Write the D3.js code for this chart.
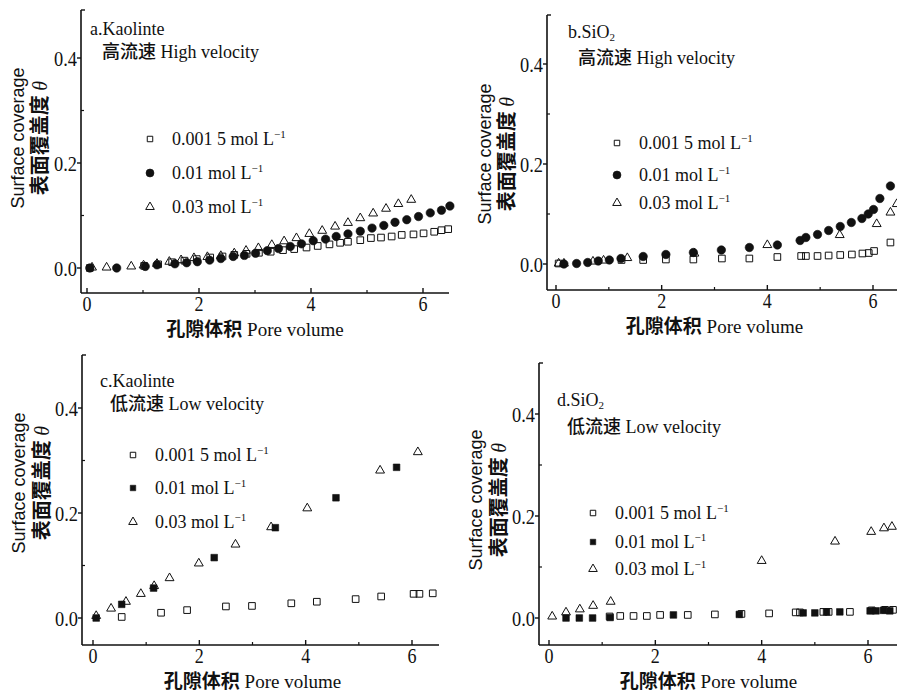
<!DOCTYPE html>
<html>
<head>
<meta charset="utf-8">
<script src="https://cdn.jsdelivr.net/npm/d3@7"></script>
<style>
body { margin: 0; background: #fff; }
svg text { fill: #111; }
</style>
</head>
<body>
<div id="chart"></div>
<script>
//tick values and legend labels
var xTicks = [0, 2, 4, 6];
var xMinor = [1, 3, 5];
var yTicks = [0.0, 0.2, 0.4];
var yMinor = [0.1, 0.3];
var seriesNames = ["0.001 5 mol L", "0.01 mol L", "0.03 mol L"];

//a. Kaolinte, high velocity  [pore volume, coverage]
var aLow = [[0.05,0],[1.02,0.004],[1.27,0.007],[1.52,0.011],[1.74,0.014],[1.96,0.017],[2.2,0.02],[2.42,0.022],[2.63,0.025],[2.85,0.027],[3.07,0.029],[3.28,0.031],[3.5,0.034],[3.7,0.036],[3.92,0.039],[4.12,0.042],[4.33,0.045],[4.52,0.048],[4.66,0.05],[4.88,0.053],[5.07,0.057],[5.25,0.058],[5.44,0.06],[5.62,0.063],[5.83,0.064],[6.01,0.066],[6.2,0.069],[6.33,0.072],[6.45,0.074]];
var aMid = [[0.05,0],[0.53,0],[1.04,0.003],[1.25,0.006],[1.57,0.008],[1.78,0.01],[1.97,0.012],[2.19,0.015],[2.39,0.018],[2.61,0.022],[2.81,0.024],[3.01,0.028],[3.22,0.033],[3.42,0.037],[3.63,0.041],[3.83,0.046],[4.04,0.052],[4.26,0.055],[4.45,0.06],[4.66,0.065],[4.88,0.07],[5.09,0.076],[5.3,0.081],[5.5,0.087],[5.71,0.092],[5.92,0.098],[6.13,0.105],[6.33,0.11],[6.48,0.118]];
var aHigh = [[0.09,0.001],[0.35,0.001],[0.79,0.003],[1.01,0.005],[1.25,0.008],[1.47,0.012],[1.68,0.015],[1.91,0.019],[2.15,0.021],[2.39,0.023],[2.63,0.028],[2.84,0.033],[3.06,0.038],[3.3,0.044],[3.52,0.051],[3.74,0.057],[3.97,0.065],[4.2,0.071],[4.43,0.079],[4.66,0.086],[4.88,0.095],[5.11,0.104],[5.34,0.113],[5.56,0.122],[5.79,0.13]];

//b. SiO2, high velocity
var bLow = [[0.05,0.001],[1.24,0.008],[1.65,0.008],[2.08,0.009],[2.6,0.009],[3.14,0.011],[3.66,0.011],[4.19,0.014],[4.64,0.016],[4.73,0.016],[4.95,0.016],[5.16,0.017],[5.38,0.018],[5.6,0.019],[5.8,0.021],[5.92,0.022],[6.02,0.026],[6.33,0.043]];
var bMid = [[0.15,0],[0.39,0.001],[0.6,0.003],[0.8,0.006],[1.01,0.008],[1.23,0.011],[1.65,0.015],[2.08,0.019],[2.6,0.023],[3.13,0.028],[3.66,0.033],[4.19,0.038],[4.62,0.047],[4.73,0.053],[4.95,0.059],[5.16,0.067],[5.38,0.075],[5.59,0.083],[5.79,0.091],[5.91,0.1],[6.01,0.109],[6.13,0.131],[6.33,0.156]];
var bHigh = [[0.05,0.001],[0.15,0.001],[0.7,0.005],[0.9,0.007],[1.35,0.012],[2.62,0.021],[4.0,0.038],[5.37,0.058],[6.07,0.08],[6.33,0.103],[6.45,0.12]];

//c. Kaolinte, low velocity
var cLow = [[0.54,0.002],[1.28,0.01],[1.77,0.015],[2.5,0.022],[2.99,0.023],[3.73,0.028],[4.21,0.031],[4.94,0.036],[5.42,0.041],[6.03,0.046],[6.14,0.046],[6.39,0.047]];
var cMid = [[0.06,0],[0.54,0.026],[1.14,0.057],[2.28,0.115],[3.43,0.172],[4.57,0.229],[5.71,0.287]];
var cHigh = [[0.06,0.004],[0.34,0.018],[0.62,0.031],[0.9,0.046],[1.15,0.061],[1.44,0.076],[1.99,0.104],[2.68,0.14],[3.35,0.173],[4.03,0.209],[5.4,0.281],[6.11,0.316]];

//d. SiO2, low velocity
var dLow = [[1.14,0.003],[1.34,0.004],[1.59,0.004],[1.84,0.004],[2.09,0.006],[2.61,0.006],[3.12,0.007],[3.62,0.008],[4.14,0.009],[4.64,0.011],[4.72,0.011],[5.16,0.012],[5.26,0.012],[5.66,0.012],[6.07,0.015],[6.32,0.016],[6.47,0.016]];
var dMid = [[0.32,0],[0.57,0],[0.82,0],[1.15,0.001],[2.34,0.006],[3.58,0.007],[4.78,0.01],[5.0,0.01],[5.22,0.012],[5.47,0.012],[6.04,0.014],[6.15,0.014],[6.29,0.015],[6.41,0.014]];
var dHigh = [[0.06,0.003],[0.32,0.011],[0.58,0.017],[0.83,0.024],[1.16,0.032],[4.0,0.112],[5.38,0.15],[6.06,0.169],[6.3,0.176],[6.45,0.179]];

//panel layout (pixel frame, where 0 and 6 / 0 and 0.4 sit)
var panels = [
  {left: 81, right: 449, top: 10, bottom: 293, x0: 87, x6: 423, y0: 268, y4: 58,
   name: "a.Kaolinte", sub: null, cn: "高流速", en: "High velocity", nameY: 35, condY: 58, nameX: 90, condX: 102,
   legX: 150, legY: [139, 173, 207], filled: "circle", data: [aLow, aMid, aHigh], yl1: 18, yl2: 40, ylc: 138},
  {left: 547, right: 905, top: 15, bottom: 290, x0: 556, x6: 873, y0: 264, y4: 64,
   name: "b.SiO", sub: "2", cn: "高流速", en: "High velocity", nameY: 38, condY: 64, nameX: 568, condX: 578,
   legX: 617, legY: [143, 175, 203], filled: "circle", data: [bLow, bMid, bHigh], yl1: 485, yl2: 507, ylc: 154},
  {left: 82, right: 439, top: 355, bottom: 645, x0: 93, x6: 412, y0: 618, y4: 408,
   name: "c.Kaolinte", sub: null, cn: "低流速", en: "Low velocity", nameY: 387, condY: 410, nameX: 100, condX: 110,
   legX: 133, legY: [455, 488, 522], filled: "square", data: [cLow, cMid, cHigh], yl1: 19, yl2: 42, ylc: 483},
  {left: 539, right: 905, top: 363, bottom: 645, x0: 549, x6: 868, y0: 618, y4: 414,
   name: "d.SiO", sub: "2", cn: "低流速", en: "Low velocity", nameY: 406, condY: 433, nameX: 557, condX: 567,
   legX: 593, legY: [513, 542, 569], filled: "square", data: [dLow, dMid, dHigh], yl1: 476, yl2: 499, ylc: 500}
];

var W = 897, H = 698;
var serif = "'Liberation Serif', 'DejaVu Serif', serif";
var cjk = "'Noto Sans CJK SC', sans-serif";

var svg = d3.select("#chart")
  .append("svg")
  .attr("width", W)
  .attr("height", H);

//marker paths
function markerPath(kind, size) {
  var t = kind == "triangle" ? d3.symbolTriangle : kind == "circle" ? d3.symbolCircle : d3.symbolSquare;
  return d3.symbol().type(t).size(size)();
}

function drawMarker(sel, kind, filled) {
  var size = kind == "circle" ? 56 : kind == "triangle" ? 34 : 44;
  sel.attr("d", markerPath(kind, size))
    .attr("fill", filled ? "#111" : "none")
    .attr("stroke", "#111")
    .attr("stroke-width", filled ? 0.6 : 1);
}

panels.forEach(function(p) {
  var g = svg.append("g");

  var x = d3.scaleLinear().domain([0, 6]).range([p.x0, p.x6]);
  var y = d3.scaleLinear().domain([0, 0.4]).range([p.y0, p.y4]);

  //axis lines
  g.append("line").attr("x1", p.left).attr("x2", p.left).attr("y1", p.top).attr("y2", p.bottom)
    .attr("stroke", "#111").attr("stroke-width", 1.6);
  g.append("line").attr("x1", p.left).attr("x2", p.right).attr("y1", p.bottom).attr("y2", p.bottom)
    .attr("stroke", "#111").attr("stroke-width", 1.6);
  g.append("line").attr("x1", p.left).attr("x2", p.left + 4).attr("y1", p.top).attr("y2", p.top)
    .attr("stroke", "#111").attr("stroke-width", 1.4);

  //x ticks (pointing inward)
  g.selectAll(".xt").data(xTicks).enter().append("line")
    .attr("x1", function(d) { return x(d); }).attr("x2", function(d) { return x(d); })
    .attr("y1", p.bottom).attr("y2", p.bottom - 5)
    .attr("stroke", "#111").attr("stroke-width", 1.4);
  g.selectAll(".xm").data(xMinor).enter().append("line")
    .attr("x1", function(d) { return x(d); }).attr("x2", function(d) { return x(d); })
    .attr("y1", p.bottom).attr("y2", p.bottom - 3)
    .attr("stroke", "#111").attr("stroke-width", 1.2);
  g.selectAll(".xl").data(xTicks).enter().append("text")
    .attr("x", function(d) { return x(d); })
    .attr("y", p.bottom + 18)
    .attr("text-anchor", "middle")
    .attr("textLength", 9).attr("lengthAdjust", "spacingAndGlyphs")
    .style("font-family", serif).style("font-size", "21px")
    .text(function(d) { return d; });

  //y ticks (pointing outward)
  g.selectAll(".yt").data(yTicks).enter().append("line")
    .attr("x1", p.left).attr("x2", p.left - 4)
    .attr("y1", function(d) { return y(d); }).attr("y2", function(d) { return y(d); })
    .attr("stroke", "#111").attr("stroke-width", 1.4);
  g.selectAll(".ym").data(yMinor).enter().append("line")
    .attr("x1", p.left).attr("x2", p.left + 3)
    .attr("y1", function(d) { return y(d); }).attr("y2", function(d) { return y(d); })
    .attr("stroke", "#111").attr("stroke-width", 1.2);
  g.selectAll(".yl").data(yTicks).enter().append("text")
    .attr("x", p.left - 4)
    .attr("y", function(d) { return y(d); })
    .attr("dy", "0.36em")
    .attr("text-anchor", "end")
    .attr("textLength", 23).attr("lengthAdjust", "spacingAndGlyphs")
    .style("font-family", serif).style("font-size", "21px")
    .text(function(d) { return d3.format(".1f")(d); });

  //x axis title
  var xt = g.append("text")
    .attr("x", (p.x0 + p.x6) / 2)
    .attr("y", p.bottom + 43)
    .attr("text-anchor", "middle")
    .style("font-size", "19px");
  xt.append("tspan").style("font-family", cjk).style("font-weight", "700").text("孔隙体积");
  xt.append("tspan").style("font-family", serif).text(" Pore volume");

  //y axis title, two lines
  g.append("text")
    .attr("transform", "translate(" + p.yl1 + "," + p.ylc + ") rotate(-90)")
    .attr("dy", "0.35em")
    .attr("text-anchor", "middle")
    .style("font-family", "'Liberation Sans', Arial, sans-serif").style("font-size", "18px")
    .text("Surface coverage");
  var yt2 = g.append("text")
    .attr("transform", "translate(" + p.yl2 + "," + p.ylc + ") rotate(-90)")
    .attr("dy", "0.35em")
    .attr("text-anchor", "middle")
    .style("font-size", "20px");
  yt2.append("tspan").style("font-family", cjk).style("font-weight", "700").text("表面覆盖度 ");
  yt2.append("tspan").style("font-family", serif).style("font-style", "italic").text("θ");

  //panel name and condition
  var nm = g.append("text").attr("x", p.nameX).attr("y", p.nameY)
    .style("font-family", serif).style("font-size", "18px").text(p.name);
  if (p.sub) {
    nm.append("tspan").attr("dy", 3).style("font-size", "11px").text(p.sub);
  }
  var cd = g.append("text").attr("x", p.condX).attr("y", p.condY).style("font-size", "18px");
  cd.append("tspan").style("font-family", cjk).style("font-weight", "500").text(p.cn);
  cd.append("tspan").style("font-family", serif).text(" " + p.en);

  //legend
  var kinds = ["square", p.filled, "triangle"];
  seriesNames.forEach(function(name, i) {
    var ly = p.legY[i];
    g.append("path")
      .attr("transform", "translate(" + p.legX + "," + ly + ")")
      .call(drawMarker, kinds[i], i == 1)
      .attr("d", markerPath(kinds[i], kinds[i] == "square" ? 30 : kinds[i] == "circle" ? 50 : 32));
    var lt = g.append("text").attr("x", p.legX + 22).attr("y", ly).attr("dy", "0.35em")
      .style("font-family", serif).style("font-size", "18px").text(name);
    lt.append("tspan").attr("dy", -7).style("font-size", "11px").text("−1");
  });

  //data points
  p.data.forEach(function(series, i) {
    g.selectAll(".pt" + i).data(series).enter().append("path")
      .attr("transform", function(d) { return "translate(" + x(d[0]) + "," + y(d[1]) + ")"; })
      .call(drawMarker, kinds[i], i == 1);
  });
});
</script>
</body>
</html>
